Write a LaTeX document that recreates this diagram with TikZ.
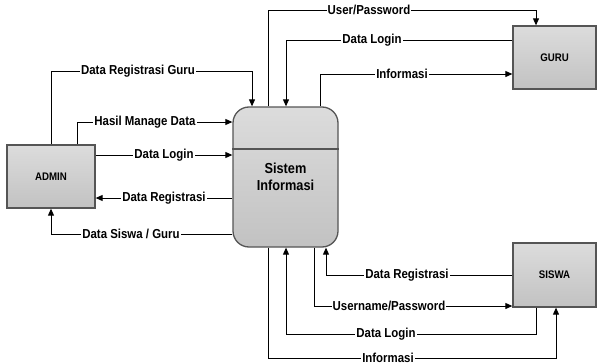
\documentclass[tikz,border=0pt]{standalone}
\usepackage{fontspec}
\setmainfont{Liberation Sans}[FakeStretch=0.88]
\usetikzlibrary{arrows.meta}
\definecolor{edge}{HTML}{555555}
\definecolor{boxtop}{HTML}{DCDCDC}
\definecolor{boxbot}{HTML}{C2C2C2}
\tikzset{
  entity/.style={draw=edge, line width=1.3pt, top color=boxtop, bottom color=boxbot,
    minimum width=83pt, minimum height=63pt, inner sep=0pt,
    font=\bfseries\fontsize{11}{13}\selectfont},
  process/.style={draw=edge, line width=1.3pt, top color=boxtop, bottom color=boxbot,
    rounded corners=16pt, minimum width=105pt, minimum height=140pt, inner sep=0pt,
    align=center, font=\bfseries\fontsize{14.5}{17}\selectfont},
  flow/.style={draw=black, line width=0.9pt, -{Triangle[length=7pt,width=6pt]}},
  lbl/.style={fill=white, inner xsep=1pt, inner ysep=0.5pt,
    font=\bfseries\fontsize{13}{15}\selectfont}
}
\begin{document}
\begin{tikzpicture}[x=1pt, y=-1pt]
\useasboundingbox (0,0) rectangle (597,364);
\fill[white] (0,0) rectangle (597,364);

% external entities and the process
\node[entity, minimum width=88pt] (admin) at (51,176.5) {ADMIN};
\node[entity] (guru) at (554.5,57.5) {GURU};
\node[entity, minimum height=64pt] (siswa) at (554.5,275) {SISWA};
\node[process] (sis) at (285.5,177) {Sistem\\Informasi};
\draw[edge, line width=1.3pt] (sis.west |- 0,149) -- (sis.east |- 0,149);

% flows between GURU and the system
\draw[flow] (sis.north -| 268,0) -- (268,10) -| (guru.north -| 536,0);
\draw[flow] (guru.west |- 0,40) -| (sis.north -| 286,0);
\draw[flow] (sis.north -| 320,0) |- (guru.west |- 0,74);

% flows between ADMIN and the system
\draw[flow] (admin.north) |- (252,71) -- (sis.north -| 252,0);
\draw[flow] (admin.north -| 77,0) |- (sis.west |- 0,122);
\draw[flow] (admin.east |- 0,155) -- (sis.west |- 0,155);
\draw[flow] (sis.west |- 0,198) -- (admin.east |- 0,198);
\draw[flow] (sis.west |- 0,234) -| (admin.south);

% flows between SISWA and the system
\draw[flow] (siswa.west) -| (sis.south -| 326,0);
\draw[flow] (sis.south -| 314,0) |- (siswa.west |- 0,306);
\draw[flow] (siswa.south -| 536,0) |- (286,334) -- (sis.south -| 286,0);
\draw[flow] (sis.south -| 268,0) |- (556,358) -- (siswa.south -| 556,0);

% flow labels
\node[lbl] (l1) at (369,10) {User/Password};
\node[lbl] (l2) at (372,40) {Data Login};
\node[lbl] (l3) at (402,74) {Informasi};
\node[lbl] (l4) at (138,71) {Data Registrasi Guru};
\node[lbl] (l5) at (145,122) {Hasil Manage Data};
\node[lbl] (l6) at (164,155) {Data Login};
\node[lbl] (l7) at (164,198) {Data Registrasi};
\node[lbl] (l8) at (131,234) {Data Siswa / Guru};
\node[lbl] (l9) at (407,275) {Data Registrasi};
\node[lbl] (l10) at (389,306) {Username/Password};
\node[lbl] (l11) at (386,334) {Data Login};
\node[lbl] (l12) at (388,358) {Informasi};
\end{tikzpicture}
\end{document}
